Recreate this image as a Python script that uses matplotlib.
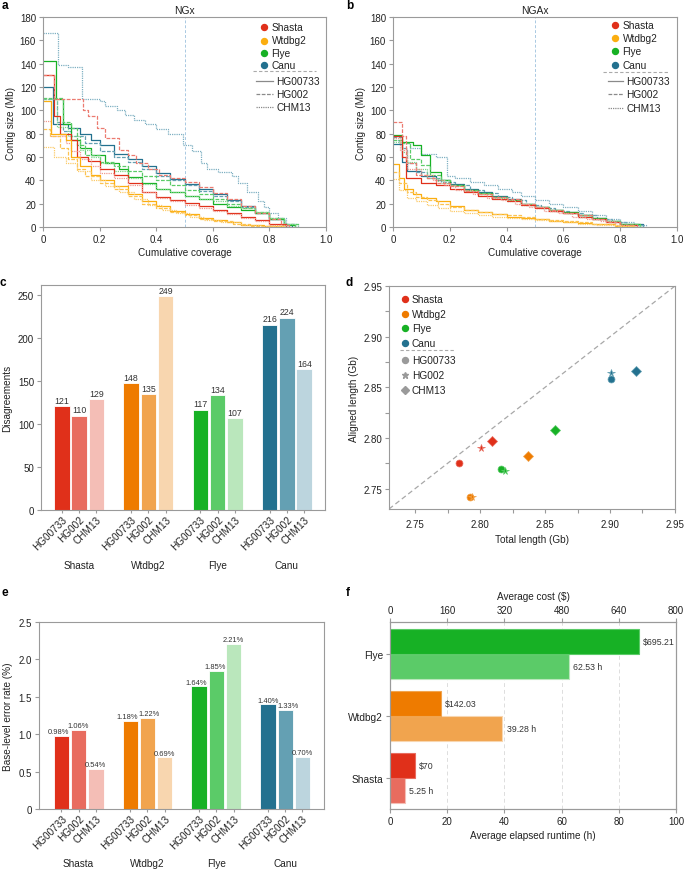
import matplotlib
matplotlib.use('Agg')
import matplotlib.pyplot as plt
from matplotlib.lines import Line2D
from matplotlib.ticker import FixedLocator
import matplotlib.transforms as mtrans
import numpy as np

plt.rcParams['font.family'] = ['Liberation Sans', 'DejaVu Sans']
plt.rcParams['font.size'] = 6.8

# ---------------- data ----------------
ASSEMBLERS = ['Shasta', 'Wtdbg2', 'Flye', 'Canu']
SAMPLES = ['HG00733', 'HG002', 'CHM13']

# Panel a: NGx step curves, (cumulative coverage, contig size Mb)
ngx_shasta_hg00733 = [(0, 130), (0.04, 95), (0.06, 80), (0.1, 75), (0.12, 60), (0.16, 57), (0.2, 50), (0.25, 45), (0.3, 38), (0.35, 30), (0.4, 26), (0.45, 23), (0.5, 21), (0.55, 18), (0.6, 15), (0.65, 12), (0.7, 9), (0.75, 6), (0.8, 3), (0.86, 0)]
ngx_shasta_hg002 = [(0, 130), (0.04, 110), (0.14, 100), (0.16, 95), (0.19, 85), (0.22, 76), (0.27, 66), (0.3, 62), (0.33, 55), (0.37, 50), (0.41, 45), (0.45, 42), (0.5, 39), (0.55, 34), (0.6, 29), (0.65, 24), (0.7, 18), (0.75, 12), (0.8, 7), (0.84, 2), (0.87, 0)]
ngx_shasta_chm13 = [(0, 91), (0.03, 78), (0.08, 72), (0.1, 65), (0.13, 58), (0.17, 52), (0.2, 46), (0.25, 42), (0.3, 36), (0.35, 30), (0.4, 25), (0.45, 22), (0.5, 19), (0.55, 16), (0.6, 14), (0.65, 11), (0.7, 8), (0.75, 5), (0.8, 2), (0.86, 0)]
ngx_wtdbg2_hg00733 = [(0, 108), (0.03, 80), (0.08, 75), (0.1, 60), (0.13, 52), (0.17, 45), (0.2, 40), (0.25, 35), (0.3, 28), (0.35, 22), (0.4, 18), (0.45, 14), (0.5, 11), (0.55, 8), (0.6, 6), (0.65, 4), (0.7, 2), (0.78, 1), (0.85, 0)]
ngx_wtdbg2_hg002 = [(0, 84), (0.025, 78), (0.06, 68), (0.09, 58), (0.12, 50), (0.15, 44), (0.2, 38), (0.25, 33), (0.3, 27), (0.35, 20), (0.4, 16), (0.45, 13), (0.5, 10), (0.55, 7), (0.6, 5), (0.67, 3), (0.73, 1), (0.85, 0)]
ngx_wtdbg2_chm13 = [(0, 69), (0.04, 60), (0.08, 55), (0.12, 48), (0.17, 40), (0.22, 35), (0.27, 30), (0.32, 24), (0.37, 19), (0.42, 15), (0.47, 12), (0.52, 9), (0.57, 6), (0.63, 4), (0.7, 2), (0.77, 1), (0.85, 0)]
ngx_flye_hg00733 = [(0, 142), (0.045, 110), (0.07, 88), (0.1, 75), (0.13, 68), (0.17, 62), (0.22, 55), (0.27, 50), (0.3, 43), (0.35, 38), (0.4, 33), (0.45, 30), (0.5, 27), (0.55, 24), (0.6, 20), (0.65, 17), (0.7, 15), (0.75, 12), (0.8, 7), (0.85, 2), (0.89, 0)]
ngx_flye_hg002 = [(0, 111), (0.07, 90), (0.1, 85), (0.12, 70), (0.15, 62), (0.2, 56), (0.25, 52), (0.3, 48), (0.35, 44), (0.4, 40), (0.45, 36), (0.5, 32), (0.55, 28), (0.6, 24), (0.65, 20), (0.7, 16), (0.75, 13), (0.8, 8), (0.85, 3), (0.9, 0)]
ngx_flye_chm13 = [(0, 110), (0.05, 86), (0.09, 78), (0.13, 66), (0.17, 60), (0.2, 55), (0.25, 48), (0.3, 42), (0.35, 37), (0.4, 33), (0.45, 30), (0.5, 27), (0.55, 24), (0.6, 22), (0.65, 18), (0.7, 16), (0.75, 13), (0.8, 8), (0.85, 3), (0.89, 0)]
ngx_canu_hg00733 = [(0, 120), (0.036, 88), (0.09, 85), (0.13, 80), (0.17, 75), (0.2, 70), (0.25, 63), (0.3, 58), (0.35, 52), (0.4, 46), (0.45, 41), (0.5, 37), (0.55, 33), (0.6, 28), (0.65, 23), (0.7, 18), (0.75, 12), (0.8, 7), (0.85, 2), (0.88, 0)]
ngx_canu_hg002 = [(0, 110), (0.048, 90), (0.07, 82), (0.1, 78), (0.15, 72), (0.2, 65), (0.25, 60), (0.3, 56), (0.35, 50), (0.4, 44), (0.45, 40), (0.5, 36), (0.55, 31), (0.6, 27), (0.65, 22), (0.7, 17), (0.75, 12), (0.8, 7), (0.85, 3), (0.89, 0)]
ngx_canu_chm13 = [(0, 166), (0.052, 139), (0.09, 137), (0.138, 110), (0.2, 108), (0.22, 104), (0.26, 100), (0.29, 96), (0.32, 92), (0.36, 88), (0.4, 84), (0.44, 80), (0.495, 70), (0.525, 65), (0.56, 55), (0.578, 50), (0.62, 47), (0.667, 44), (0.69, 38), (0.72, 30), (0.76, 22), (0.78, 17), (0.8, 12), (0.83, 8), (0.86, 3), (0.9, 0)]

# Panel b: NGAx step curves
ngax_shasta_hg00733 = [(0, 78), (0.03, 60), (0.045, 42), (0.1, 38), (0.15, 36), (0.2, 33), (0.25, 30), (0.3, 27), (0.35, 24), (0.4, 22), (0.45, 19), (0.5, 16), (0.55, 14), (0.6, 12), (0.65, 9), (0.7, 7), (0.75, 4), (0.8, 2), (0.86, 0)]
ngax_shasta_hg002 = [(0, 90), (0.03, 78), (0.045, 55), (0.08, 45), (0.12, 42), (0.15, 38), (0.2, 35), (0.25, 31), (0.3, 28), (0.35, 26), (0.4, 24), (0.45, 20), (0.5, 17), (0.55, 15), (0.6, 12), (0.65, 10), (0.7, 7), (0.75, 4), (0.8, 2), (0.86, 0)]
ngax_shasta_chm13 = [(0, 76), (0.025, 66), (0.05, 50), (0.1, 45), (0.14, 40), (0.18, 36), (0.22, 32), (0.28, 28), (0.33, 25), (0.38, 23), (0.43, 20), (0.48, 17), (0.53, 14), (0.58, 12), (0.63, 9), (0.68, 7), (0.73, 5), (0.78, 2), (0.85, 0)]
ngax_wtdbg2_hg00733 = [(0, 54), (0.02, 42), (0.04, 33), (0.07, 28), (0.1, 25), (0.15, 22), (0.2, 18), (0.25, 15), (0.3, 13), (0.35, 11), (0.4, 9), (0.45, 8), (0.5, 6.5), (0.55, 5.5), (0.6, 4.5), (0.65, 3.5), (0.7, 2.5), (0.78, 1), (0.85, 0)]
ngax_wtdbg2_hg002 = [(0, 47), (0.02, 38), (0.05, 30), (0.08, 26), (0.12, 23), (0.16, 20), (0.2, 17), (0.25, 15), (0.3, 13), (0.35, 11), (0.4, 10), (0.45, 8.5), (0.5, 7), (0.55, 6), (0.6, 5), (0.65, 4), (0.7, 3), (0.78, 1), (0.85, 0)]
ngax_wtdbg2_chm13 = [(0, 41), (0.02, 32), (0.05, 25), (0.08, 22), (0.12, 19), (0.16, 16), (0.2, 14), (0.25, 12), (0.3, 10), (0.35, 9), (0.4, 8), (0.45, 7), (0.5, 6), (0.55, 5), (0.6, 4), (0.65, 3), (0.72, 2), (0.8, 0.5), (0.85, 0)]
ngax_flye_hg00733 = [(0, 79), (0.03, 73), (0.07, 70), (0.1, 62), (0.13, 47), (0.17, 40), (0.2, 36), (0.25, 32), (0.3, 29), (0.35, 26), (0.4, 23), (0.45, 20), (0.5, 17), (0.55, 15), (0.6, 13), (0.65, 10), (0.7, 8), (0.75, 5), (0.8, 3), (0.87, 0)]
ngax_flye_hg002 = [(0, 75), (0.03, 72), (0.06, 58), (0.1, 53), (0.13, 45), (0.17, 40), (0.2, 36), (0.25, 32), (0.3, 29), (0.35, 26), (0.4, 23), (0.45, 20), (0.5, 17), (0.55, 15), (0.6, 12), (0.65, 10), (0.7, 7), (0.75, 5), (0.8, 3), (0.87, 0)]
ngax_flye_chm13 = [(0, 73), (0.03, 64), (0.05, 56), (0.08, 50), (0.12, 42), (0.16, 38), (0.2, 35), (0.25, 31), (0.3, 28), (0.35, 25), (0.4, 22), (0.45, 19), (0.5, 16), (0.55, 14), (0.6, 12), (0.65, 9), (0.7, 7), (0.75, 5), (0.8, 2), (0.87, 0)]
ngax_canu_hg00733 = [(0, 71), (0.03, 56), (0.05, 48), (0.1, 44), (0.15, 40), (0.2, 37), (0.25, 33), (0.3, 30), (0.35, 27), (0.4, 24), (0.45, 20), (0.5, 17), (0.55, 15), (0.6, 13), (0.65, 10), (0.7, 8), (0.75, 5), (0.8, 3), (0.88, 0)]
ngax_canu_hg002 = [(0, 77), (0.03, 68), (0.05, 55), (0.08, 47), (0.12, 42), (0.17, 39), (0.22, 36), (0.27, 32), (0.32, 29), (0.37, 26), (0.42, 23), (0.47, 19), (0.52, 16), (0.57, 14), (0.62, 12), (0.67, 10), (0.72, 7), (0.77, 4), (0.82, 2), (0.88, 0)]
ngax_canu_chm13 = [(0, 75), (0.02, 72), (0.06, 68), (0.1, 63), (0.15, 60), (0.19, 44), (0.22, 42), (0.27, 39), (0.32, 36), (0.37, 33), (0.42, 30), (0.45, 27), (0.5, 23), (0.55, 20), (0.6, 17), (0.65, 14), (0.7, 10), (0.75, 7), (0.8, 4), (0.85, 1.5), (0.89, 0)]

# Panel c: disagreements
disagree_shasta = [121, 110, 129]
disagree_wtdbg2 = [148, 135, 249]
disagree_flye = [117, 134, 107]
disagree_canu = [216, 224, 164]

# Panel d: total length vs aligned length (Gb)
total_shasta = [2.784, 2.801, 2.809]
aligned_shasta = [2.775, 2.790, 2.797]
total_wtdbg2 = [2.792, 2.794, 2.837]
aligned_wtdbg2 = [2.742, 2.742, 2.782]
total_flye = [2.816, 2.819, 2.858]
aligned_flye = [2.769, 2.767, 2.808]
total_canu = [2.901, 2.901, 2.920]
aligned_canu = [2.858, 2.864, 2.866]

# Panel e: base-level error rate (%)
error_shasta = [0.98, 1.06, 0.54]
error_wtdbg2 = [1.18, 1.22, 0.69]
error_flye = [1.64, 1.85, 2.21]
error_canu = [1.40, 1.33, 0.70]

# Panel f: cost and runtime
f_assemblers = ['Shasta', 'Wtdbg2', 'Flye']
f_cost = [70, 142.03, 695.21]
f_cost_labels = ['$70', '$142.03', '$695.21']
f_runtime = [5.25, 39.28, 62.53]

# ---------------- styling ----------------
BAR_COLORS = {
    'Shasta': ['#E0301A', '#E86C5F', '#F4BEB6'],
    'Wtdbg2': ['#EE7B00', '#F1A44E', '#F8D6AF'],
    'Flye': ['#17B125', '#5BCB68', '#BAE7BC'],
    'Canu': ['#23718F', '#64A0B3', '#BCD5DE'],
}
LINE_COLORS = {
    'Shasta': ['#E0301A', '#EC7B70', '#F09A90'],
    'Wtdbg2': ['#FBAE10', '#FCC350', '#FCCB6A'],
    'Flye': ['#17B125', '#5BCB68', '#80D88B'],
    'Canu': ['#23718F', '#64A0B3', '#7FB0C2'],
}
LEGEND_DOT = {'Shasta': '#E0301A', 'Wtdbg2': '#FBAE10', 'Flye': '#17B125', 'Canu': '#23718F'}
LEGEND_DOT_D = {'Shasta': '#E0301A', 'Wtdbg2': '#EE7B00', 'Flye': '#17B125', 'Canu': '#23718F'}
LSTYLES = ['-', (0, (3, 1.2)), (0, (1, 0.8))]
SPINE = '#9a9a9a'
TXT = '#222222'
# horizontal nudges (pixels) of the value labels in panel e, per bar
E_LABEL_DX = [-3, -0.5, 0, -3.5, 2, 0, -3, -1, 0, 0, 2.5, 0]

W, H = 685, 870
fig = plt.figure(figsize=(W / 100, H / 100), dpi=100)


def add_ax(l, t, r, b):
    return fig.add_axes([l / W, 1 - b / H, (r - l) / W, (b - t) / H])


def fx(x):
    return x / W


def fy(y):
    return 1 - y / H


def style(ax):
    for s in ax.spines.values():
        s.set_color(SPINE)
        s.set_linewidth(0.8)
    ax.tick_params(which='both', colors=SPINE, labelcolor=TXT, length=3, width=0.8,
                   labelsize=7, pad=2)


def panel_label(ch, x, y):
    fig.text(fx(x), fy(y), ch, fontsize=8.5, fontweight='bold', ha='left', va='center', color='black')


def curve_legend(dot_x, text_x, ys, sep_x0, sep_x1, sep_y, line_x0, line_x1, line_text_x, line_ys):
    for asm, y in zip(ASSEMBLERS, ys):
        fig.add_artist(Line2D([fx(dot_x)], [fy(y)], transform=fig.transFigure, marker='o',
                              markersize=4.3, color=LEGEND_DOT[asm], linestyle='none'))
        fig.text(fx(text_x), fy(y), asm, fontsize=7.3, va='center', ha='left', color=TXT)
    fig.add_artist(Line2D([fx(sep_x0), fx(sep_x1)], [fy(sep_y), fy(sep_y)], transform=fig.transFigure,
                          color='#aaaaaa', lw=0.8, linestyle=(0, (3, 2))))
    for samp, ls, y in zip(SAMPLES, LSTYLES, line_ys):
        fig.add_artist(Line2D([fx(line_x0), fx(line_x1)], [fy(y), fy(y)], transform=fig.transFigure,
                              color='#8a8a8a', lw=0.9, linestyle=ls))
        fig.text(fx(line_text_x), fy(y), samp, fontsize=7.3, va='center', ha='left', color=TXT)


def draw_curves(ax, curves, title):
    for asm in ['Canu', 'Flye', 'Shasta', 'Wtdbg2']:
        for i, samp in enumerate(SAMPLES):
            pts = curves[(asm, samp)]
            xs = [p[0] for p in pts]
            ys = [p[1] for p in pts]
            ax.step(xs, ys, where='post', color=LINE_COLORS[asm][i], lw=0.9, linestyle=LSTYLES[i])
    ax.axvline(0.5, color='#a9c9e2', lw=0.7, linestyle=(0, (3, 2)), zorder=0)
    ax.set_xlim(0, 1)
    ax.set_ylim(0, 180)
    ax.set_xticks([0, 0.2, 0.4, 0.6, 0.8, 1.0])
    ax.set_xticklabels(['0', '0.2', '0.4', '0.6', '0.8', '1.0'])
    ax.set_yticks(range(0, 181, 20))
    ax.set_xlabel('Cumulative coverage', fontsize=7.2, color=TXT, labelpad=2)
    ax.set_ylabel('Contig size (Mb)', fontsize=7.2, color=TXT, labelpad=3)
    ax.set_title(title, fontsize=7.4, color=TXT, pad=3)
    style(ax)


# ---------------- panels a & b ----------------
ngx = {
    ('Shasta', 'HG00733'): ngx_shasta_hg00733, ('Shasta', 'HG002'): ngx_shasta_hg002, ('Shasta', 'CHM13'): ngx_shasta_chm13,
    ('Wtdbg2', 'HG00733'): ngx_wtdbg2_hg00733, ('Wtdbg2', 'HG002'): ngx_wtdbg2_hg002, ('Wtdbg2', 'CHM13'): ngx_wtdbg2_chm13,
    ('Flye', 'HG00733'): ngx_flye_hg00733, ('Flye', 'HG002'): ngx_flye_hg002, ('Flye', 'CHM13'): ngx_flye_chm13,
    ('Canu', 'HG00733'): ngx_canu_hg00733, ('Canu', 'HG002'): ngx_canu_hg002, ('Canu', 'CHM13'): ngx_canu_chm13,
}
ngax = {
    ('Shasta', 'HG00733'): ngax_shasta_hg00733, ('Shasta', 'HG002'): ngax_shasta_hg002, ('Shasta', 'CHM13'): ngax_shasta_chm13,
    ('Wtdbg2', 'HG00733'): ngax_wtdbg2_hg00733, ('Wtdbg2', 'HG002'): ngax_wtdbg2_hg002, ('Wtdbg2', 'CHM13'): ngax_wtdbg2_chm13,
    ('Flye', 'HG00733'): ngax_flye_hg00733, ('Flye', 'HG002'): ngax_flye_hg002, ('Flye', 'CHM13'): ngax_flye_chm13,
    ('Canu', 'HG00733'): ngax_canu_hg00733, ('Canu', 'HG002'): ngax_canu_hg002, ('Canu', 'CHM13'): ngax_canu_chm13,
}

axa = add_ax(43, 18, 326, 228)
draw_curves(axa, ngx, 'NGx')
curve_legend(264.3, 271.5, [28, 41.5, 54, 66.3], 252.7, 316, 72.3, 256, 272.7, 276.5, [82, 95.3, 108.3])
panel_label('a', 2, 6)

axb = add_ax(393, 18, 677, 228)
draw_curves(axb, ngax, 'NGAx')
curve_legend(615.3, 622.5, [25.7, 39, 52.3, 65.7], 603.3, 668.3, 72.7, 608.3, 623.3, 626.5, [82, 95.3, 108.7])
panel_label('b', 346, 6)


# ---------------- bar panels c & e ----------------
def grouped_bars(ax, groups, fmt, offset, label_fs, label_dx, xlim, ylim, yticks, yticklabels, ylabel, group_y):
    pos, vals, cols, labs = [], [], [], []
    for g, (asm, v) in enumerate(zip(ASSEMBLERS, groups)):
        for k in range(3):
            pos.append(g * 4 + k)
            vals.append(v[k])
            cols.append(BAR_COLORS[asm][k])
            labs.append(SAMPLES[k])
    ax.bar(pos, vals, width=0.9, color=cols, edgecolor='white', linewidth=0.6)
    for p, v, dx in zip(pos, vals, label_dx):
        ax.annotate(fmt(v), (p, v + offset), xytext=(dx * 0.72, 0), textcoords='offset points',
                    ha='center', va='bottom', fontsize=label_fs, color='#333333')
    ax.set_xlim(*xlim)
    ax.set_ylim(*ylim)
    ax.set_xticks(pos)
    ax.set_xticklabels(labs, rotation=45, ha='right', va='top', rotation_mode='anchor')
    ax.set_yticks(yticks)
    ax.set_yticklabels(yticklabels)
    ax.set_ylabel(ylabel, fontsize=7.2, color=TXT, labelpad=4)
    style(ax)
    ax.tick_params(axis='x', length=2, labelsize=7.2, pad=1)
    trans = mtrans.blended_transform_factory(ax.transData, ax.transAxes)
    for g, asm in enumerate(ASSEMBLERS):
        ax.text(g * 4 + 1, group_y, asm, transform=trans, ha='center', va='center', fontsize=7.2, color=TXT)


axc = add_ax(41, 286, 325, 511)
grouped_bars(axc, [disagree_shasta, disagree_wtdbg2, disagree_flye, disagree_canu],
             lambda v: f'{v}', 1.5, 6.3, [0] * 12, (-1.2, 15.2), (0, 262), range(0, 251, 50),
             [str(v) for v in range(0, 251, 50)], 'Disagreements', -(566 - 511) / (511 - 286))
panel_label('c', 0, 283)

axe = add_ax(39, 623, 324, 810)
grouped_bars(axe, [error_shasta, error_wtdbg2, error_flye, error_canu],
             lambda v: f'{v:.2f}%', 0.01, 5.4, E_LABEL_DX, (-1.3, 15.25), (0, 2.5), [0, 0.5, 1.0, 1.5, 2.0, 2.5],
             ['0', '0.5', '1.0', '1.5', '2.0', '2.5'], 'Base-level error rate (%)', -(864 - 810) / (810 - 623))
panel_label('e', 2, 593)

# ---------------- panel d ----------------
axd = add_ax(389, 287, 675, 510)
axd.plot([2.73, 2.95], [2.73, 2.95], linestyle=(0, (4, 2.5)), color='#a8a8a8', lw=0.9, zorder=0)
MARKERS = ['o', '*', 'D']
MSIZES = [5.0, 5.5, 4.6]
tot = {'Shasta': total_shasta, 'Wtdbg2': total_wtdbg2, 'Flye': total_flye, 'Canu': total_canu}
aln = {'Shasta': aligned_shasta, 'Wtdbg2': aligned_wtdbg2, 'Flye': aligned_flye, 'Canu': aligned_canu}
for asm in ASSEMBLERS:
    for k in range(3):
        axd.plot(tot[asm][k], aln[asm][k], marker=MARKERS[k], markersize=MSIZES[k], linestyle='none',
                 color=LEGEND_DOT_D[asm], markeredgecolor=BAR_COLORS[asm][1], markeredgewidth=0.5)
axd.set_xlim(2.73, 2.95)
axd.set_ylim(2.73, 2.95)
axd.xaxis.set_major_locator(FixedLocator([2.75, 2.80, 2.85, 2.90, 2.95]))
axd.yaxis.set_major_locator(FixedLocator([2.75, 2.80, 2.85, 2.90, 2.95]))
axd.xaxis.set_minor_locator(FixedLocator([2.775, 2.825, 2.875, 2.925]))
axd.yaxis.set_minor_locator(FixedLocator([2.775, 2.825, 2.875, 2.925]))
axd.set_xticklabels(['2.75', '2.80', '2.85', '2.90', '2.95'])
axd.set_yticklabels(['2.75', '2.80', '2.85', '2.90', '2.95'])
axd.set_xlabel('Total length (Gb)', fontsize=7.2, color=TXT, labelpad=4)
axd.set_ylabel('Aligned length (Gb)', fontsize=7.2, color=TXT, labelpad=3)
style(axd)
axd.tick_params(axis='x', pad=4)
# legend d
for asm, y in zip(ASSEMBLERS, [300, 314.7, 329.3, 343.7]):
    fig.add_artist(Line2D([fx(405.3)], [fy(y)], transform=fig.transFigure, marker='o', markersize=4.3,
                          color=LEGEND_DOT_D[asm], linestyle='none'))
    fig.text(fx(411.7), fy(y), asm, fontsize=7.3, va='center', ha='left', color=TXT)
fig.add_artist(Line2D([fx(400), fx(455)], [fy(351), fy(351)], transform=fig.transFigure,
                      color='#aaaaaa', lw=0.8, linestyle=(0, (3, 2))))
for samp, mk, ms, y in zip(SAMPLES, MARKERS, [4.3, 4.8, 4.3], [361.3, 376.3, 390.7]):
    fig.add_artist(Line2D([fx(405.3)], [fy(y)], transform=fig.transFigure, marker=mk, markersize=ms,
                          color='#9a9a9a', linestyle='none'))
    fig.text(fx(411.7), fy(y), samp, fontsize=7.3, va='center', ha='left', color=TXT)
panel_label('d', 345, 283)

# ---------------- panel f ----------------
axf = add_ax(390, 623, 676, 810)
axt = axf.twiny()
ypos = np.arange(len(f_assemblers))
for i, asm in enumerate(f_assemblers):
    axf.barh(ypos[i] - 0.2, f_runtime[i], height=0.4, color=BAR_COLORS[asm][1],
             edgecolor=BAR_COLORS[asm][2], linewidth=0.8, zorder=2)
    axt.barh(ypos[i] + 0.2, f_cost[i], height=0.4, color=BAR_COLORS[asm][0],
             edgecolor=BAR_COLORS[asm][1], linewidth=0.8, zorder=2)
    axf.annotate(f'{f_runtime[i]:.2f} h', (f_runtime[i], ypos[i] - 0.2), xytext=(3, 0),
                 textcoords='offset points', va='center', ha='left', fontsize=6.3, color='#333333')
    axt.annotate(f_cost_labels[i], (f_cost[i], ypos[i] + 0.2), xytext=(3, 0),
                 textcoords='offset points', va='center', ha='left', fontsize=6.3, color='#333333')
for xv in [20, 40, 60, 80]:
    axf.axvline(xv, color='#dddddd', lw=0.7, linestyle=(0, (4, 3)), zorder=0)
axf.set_xlim(0, 100)
axt.set_xlim(0, 800)
axf.set_ylim(-0.5, 2.52)
axf.set_yticks(ypos)
axf.set_yticklabels(f_assemblers)
axf.set_xticks(range(0, 101, 20))
axt.set_xticks(range(0, 801, 160))
axf.set_xlabel('Average elapsed runtime (h)', fontsize=7.2, color=TXT, labelpad=3)
axt.set_xlabel('Average cost ($)', fontsize=7.2, color=TXT, labelpad=4)
style(axf)
style(axt)
axf.tick_params(axis='y', labelsize=7.3)
panel_label('f', 346, 593)

fig.savefig('out.png', dpi=100)
